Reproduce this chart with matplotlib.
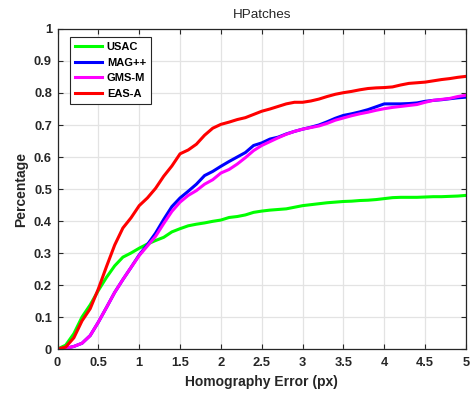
import numpy as np
import matplotlib
matplotlib.use("Agg")
import matplotlib.pyplot as plt

# homography error thresholds (px)
err = np.round(np.arange(0, 5.01, 0.1), 1)

usac = [0.0, 0.012, 0.048, 0.10, 0.138, 0.183, 0.224, 0.26, 0.287, 0.30,
        0.315, 0.328, 0.339, 0.349, 0.366, 0.376, 0.385, 0.390, 0.394, 0.399,
        0.403, 0.411, 0.414, 0.419, 0.427, 0.431, 0.434, 0.436, 0.438, 0.443,
        0.448, 0.451, 0.454, 0.457, 0.459, 0.461, 0.462, 0.464, 0.465, 0.467,
        0.470, 0.473, 0.474, 0.474, 0.474, 0.475, 0.476, 0.476, 0.477, 0.478,
        0.48]
mag = [0.0, 0.002, 0.008, 0.018, 0.042, 0.084, 0.13, 0.177, 0.217, 0.255,
       0.294, 0.326, 0.362, 0.405, 0.445, 0.472, 0.493, 0.515, 0.542, 0.555,
       0.571, 0.586, 0.60, 0.614, 0.636, 0.644, 0.656, 0.662, 0.672, 0.680,
       0.687, 0.693, 0.700, 0.710, 0.721, 0.730, 0.735, 0.741, 0.748, 0.757,
       0.766, 0.766, 0.766, 0.767, 0.769, 0.774, 0.777, 0.779, 0.782, 0.785,
       0.787]
gms = [0.0, 0.002, 0.008, 0.018, 0.042, 0.084, 0.13, 0.177, 0.217, 0.255,
       0.292, 0.322, 0.352, 0.392, 0.43, 0.459, 0.48, 0.495, 0.515, 0.529,
       0.55, 0.561, 0.578, 0.598, 0.62, 0.636, 0.648, 0.660, 0.671, 0.680,
       0.687, 0.692, 0.697, 0.705, 0.715, 0.722, 0.729, 0.735, 0.740, 0.746,
       0.751, 0.755, 0.758, 0.761, 0.764, 0.771, 0.777, 0.780, 0.783, 0.789,
       0.793]
eas = [0.0, 0.006, 0.035, 0.088, 0.126, 0.188, 0.258, 0.325, 0.378, 0.41,
       0.448, 0.472, 0.502, 0.540, 0.572, 0.61, 0.622, 0.640, 0.668, 0.690,
       0.702, 0.709, 0.717, 0.723, 0.733, 0.743, 0.750, 0.758, 0.766, 0.771,
       0.771, 0.775, 0.781, 0.789, 0.796, 0.801, 0.805, 0.810, 0.814, 0.816,
       0.817, 0.819, 0.825, 0.830, 0.832, 0.834, 0.838, 0.842, 0.845, 0.849,
       0.852]

plt.rcParams["font.family"] = ["Liberation Sans", "DejaVu Sans"]
dark = "#262626"

fig = plt.figure(figsize=(4.73, 3.94), dpi=100)
ax = fig.add_axes([0.1216, 0.1142, 0.8636, 0.8122])

lw = 2.2
ax.plot(err, usac, color=(0, 1, 0), lw=lw, label="USAC")
ax.plot(err, mag, color=(0, 0, 1), lw=lw, label="MAG++")
ax.plot(err, gms, color=(1, 0, 1), lw=lw, label="GMS-M")
ax.plot(err, eas, color=(1, 0, 0), lw=lw, label="EAS-A")

ax.set_xlim(0, 5)
ax.set_ylim(0, 1)
ax.set_xticks(np.arange(0, 5.01, 0.5))
ax.set_xticklabels(["0", "0.5", "1", "1.5", "2", "2.5", "3", "3.5", "4", "4.5", "5"])
ax.set_yticks(np.arange(0, 1.01, 0.1))
ax.set_yticklabels(["0", "0.1", "0.2", "0.3", "0.4", "0.5", "0.6", "0.7", "0.8", "0.9", "1"])
ax.grid(True, color="#e3e3e3", lw=0.9)
ax.set_axisbelow(True)
ax.tick_params(direction="in", top=True, right=True, length=3.5, width=0.8,
               colors=dark, labelsize=9.3)
ax.tick_params(axis="x", pad=6)
ax.tick_params(axis="y", pad=4)
for lab in ax.get_xticklabels() + ax.get_yticklabels():
    lab.set_fontweight("bold")
for sp in ax.spines.values():
    sp.set_color(dark)
    sp.set_linewidth(0.9)

ax.set_xlabel("Homography Error (px)", fontsize=10, fontweight="bold", color=dark, labelpad=4)
ax.set_ylabel("Percentage", fontsize=10, fontweight="bold", color=dark, labelpad=4)
ax.set_title("HPatches", fontsize=9.7, color=dark, pad=8)

leg = ax.legend(loc="upper left", bbox_to_anchor=(0.031, 0.975), borderaxespad=0,
                fancybox=False, framealpha=1, edgecolor=dark, handlelength=2.4,
                prop={"weight": "bold", "size": 8}, labelspacing=0.5,
                handletextpad=0.45, borderpad=0.45)
leg.get_frame().set_linewidth(0.8)

fig.savefig("out.png", dpi=100)
